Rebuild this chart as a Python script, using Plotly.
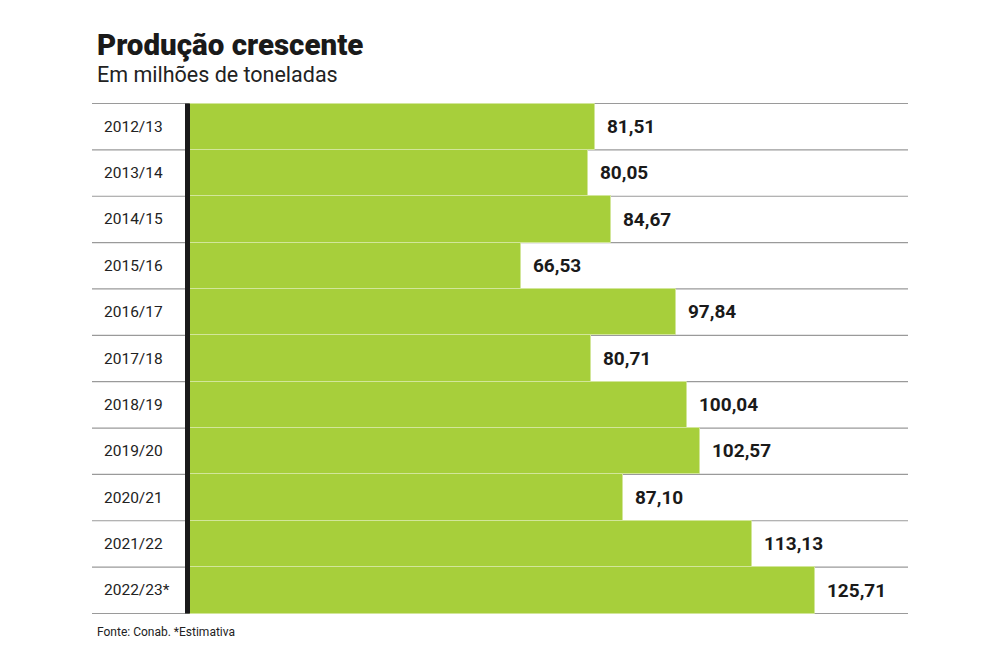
import plotly.graph_objects as go

seasons = ['2012/13', '2013/14', '2014/15', '2015/16', '2016/17', '2017/18',
           '2018/19', '2019/20', '2020/21', '2021/22', '2022/23*']
production = [81.51, 80.05, 84.67, 66.53, 97.84, 80.71,
              100.04, 102.57, 87.10, 113.13, 125.71]

green = '#a7cf3b'
x_min, x_max = -19.72, 144.5

# page body has an 8px margin, so the figure sits 8px right/down in the window
off = 8
W, H = 984, 656
L, R, T, B = 92 - off, W - 908 + off, 101 - off, H - 616 + off

fig = go.Figure()

fig.add_trace(go.Bar(
    x=production, y=seasons, orientation='h',
    width=1.0,
    marker=dict(color=green, line=dict(color='#d2e69a', width=1)),
    texttemplate='\u00a0\u00a0%{x:.2f}', textposition='outside',
    textfont=dict(family='Roboto', size=19, color='#1a1a1a', weight=700),
    cliponaxis=False, hoverinfo='skip',
))

# season labels inside the left column
for s in seasons:
    fig.add_annotation(x=x_min + 2.0, y=s, xref='x', yref='y', text=s,
                       xanchor='left', yanchor='middle', showarrow=False,
                       font=dict(family='Roboto', size=15.5, color='#222'))

# row separators
for i in range(len(seasons) + 1):
    fig.add_shape(type='line', xref='paper', yref='y', x0=0, x1=1,
                  y0=i - 0.5, y1=i - 0.5, layer='below',
                  line=dict(color='#9a9a9a', width=1.2))

# black axis line
fig.add_shape(type='line', xref='x', yref='y', x0=-0.5, x1=-0.5,
              y0=-0.5, y1=len(seasons) - 0.5,
              line=dict(color='#1a1a1a', width=5))

fig.update_layout(
    width=W, height=H,
    margin=dict(l=L, r=R, t=T, b=B),
    paper_bgcolor='white', plot_bgcolor='white',
    separators=',.',
    showlegend=False,
    bargap=0,
    xaxis=dict(range=[x_min, x_max], visible=False, fixedrange=True),
    yaxis=dict(autorange='reversed', visible=False, fixedrange=True),
)

pw = W - L - R
ph = H - T - B


def px_x(px):
    return (px - off - L) / pw


def px_y(py):
    return (H - B - (py - off)) / ph


fig.add_annotation(x=px_x(95), y=px_y(45), xref='paper', yref='paper',
                   text='Produção crescente', showarrow=False,
                   xanchor='left', yanchor='middle',
                   font=dict(family='Roboto', size=29.5, color='#1a1a1a', weight=900))
fig.add_annotation(x=px_x(95), y=px_y(75), xref='paper', yref='paper',
                   text='Em milhões de toneladas', showarrow=False,
                   xanchor='left', yanchor='middle',
                   font=dict(family='Roboto', size=21.5, color='#222'))
fig.add_annotation(x=px_x(95), y=px_y(632), xref='paper', yref='paper',
                   text='Fonte: Conab. *Estimativa', showarrow=False,
                   xanchor='left', yanchor='middle',
                   font=dict(family='Roboto', size=12, color='#222'))

fig.write_html('out.html')
